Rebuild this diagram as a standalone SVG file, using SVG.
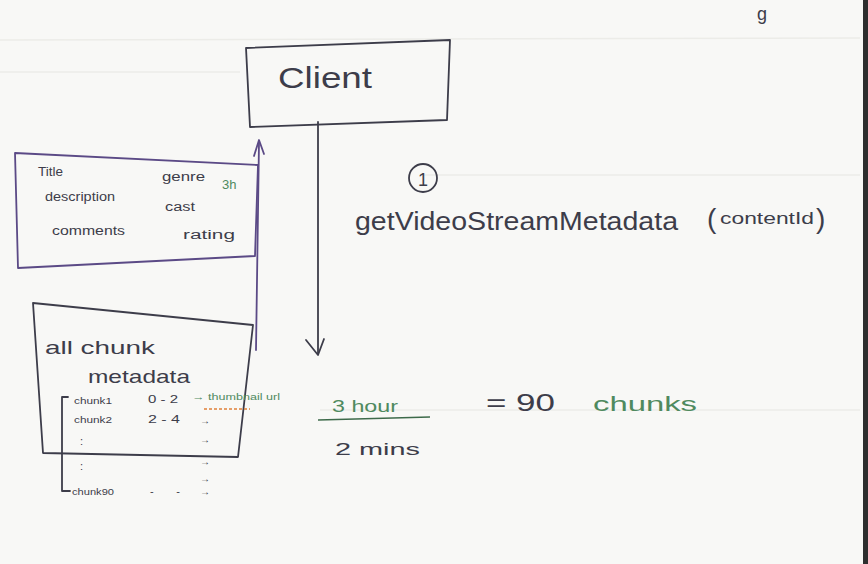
<svg xmlns="http://www.w3.org/2000/svg" width="868" height="564" viewBox="0 0 868 564">
<defs>
<style>
.ink{fill:none;stroke:#3d3d4a;stroke-width:1.8;stroke-linecap:round;stroke-linejoin:round}
.pur{fill:none;stroke:#5b4a86;stroke-width:1.8;stroke-linecap:round;stroke-linejoin:round}
.rule{stroke:#ecece8;stroke-width:1.5}
.t{font-family:"Liberation Sans",Arial,sans-serif;fill:#3d3d4a}
.g{fill:#4f8a5f}
.s{font-size:12px}
</style>
</defs>
<rect width="868" height="564" fill="#f8f8f6"/>
<g id="background-rules">
<line class="rule" x1="0" y1="40" x2="860" y2="38"/>
<line class="rule" x1="0" y1="72" x2="240" y2="72"/>
<line class="rule" x1="420" y1="175" x2="860" y2="175"/>
<line class="rule" x1="320" y1="410" x2="860" y2="410"/>
<rect x="863" y="0" width="5" height="564" fill="#2e2e2e"/>
</g>
<g id="connectors">
<path class="ink" d="M318 122 L318 354"/>
<path class="ink" d="M306 340 L318 355 L324 339"/>
<path class="pur" d="M256 350 L259 142"/>
<path class="pur" d="M254 156 L259 140 L264 154"/>
</g>
<g id="client">
<path class="ink" d="M246 48 L450 40 L447 120 L250 127 Z"/>
<text class="t" x="278" y="88" font-size="30" textLength="94" lengthAdjust="spacingAndGlyphs">Client</text>
</g>
<g id="video-metadata">
<path class="pur" d="M15 153 L258 165 L255 256 L18 268 Z"/>
<text class="t s" x="38" y="176" textLength="25" lengthAdjust="spacingAndGlyphs">Title</text>
<text class="t s" x="45" y="201" textLength="70" lengthAdjust="spacingAndGlyphs">description</text>
<text class="t s" x="52" y="235" textLength="73" lengthAdjust="spacingAndGlyphs">comments</text>
<text class="t s" x="162" y="181" textLength="43" lengthAdjust="spacingAndGlyphs">genre</text>
<text class="t g" x="222" y="189" font-size="13">3h</text>
<text class="t s" x="165" y="211" textLength="30" lengthAdjust="spacingAndGlyphs">cast</text>
<text class="t s" x="183" y="239" textLength="52" lengthAdjust="spacingAndGlyphs">rating</text>
</g>
<g id="chunk-metadata">
<path class="ink" d="M33 303 L253 325 L238 457 L43 453 Z"/>
<text class="t" x="45" y="354" font-size="19" textLength="110" lengthAdjust="spacingAndGlyphs">all chunk</text>
<text class="t" x="88" y="383" font-size="19" textLength="102" lengthAdjust="spacingAndGlyphs">metadata</text>
<path class="ink" d="M68 397 L62 397 L62 491 L70 491" stroke-width="1.4"/>
<text class="t" x="74" y="404" font-size="9" textLength="38" lengthAdjust="spacingAndGlyphs">chunk1</text>
<text class="t" x="74" y="423" font-size="9" textLength="38" lengthAdjust="spacingAndGlyphs">chunk2</text>
<text class="t" x="72" y="495" font-size="9" textLength="42" lengthAdjust="spacingAndGlyphs">chunk90</text>
<text class="t" x="148" y="403" font-size="10" textLength="30" lengthAdjust="spacingAndGlyphs">0 - 2</text>
<text class="t" x="148" y="423" font-size="10" textLength="32" lengthAdjust="spacingAndGlyphs">2 - 4</text>
<text class="t" x="80" y="445" font-size="11">:</text>
<text class="t" x="80" y="470" font-size="11">:</text>
<text class="t" x="150" y="495" font-size="11" textLength="30" lengthAdjust="spacing">-  -</text>
<text class="t g" x="192" y="400" font-size="9" textLength="88" lengthAdjust="spacingAndGlyphs">→ thumbnail url</text>
<line x1="204" y1="409" x2="250" y2="409" stroke="#e0803a" stroke-width="1.5" stroke-dasharray="3 2"/>
<text class="t" x="200" y="424" font-size="10">→</text>
<text class="t" x="200" y="443" font-size="10">→</text>
<text class="t" x="200" y="465" font-size="10">→</text>
<text class="t" x="200" y="482" font-size="10">→</text>
<text class="t" x="200" y="495" font-size="10">→</text>
</g>
<g id="api-call">
<circle cx="423" cy="178" r="14" class="ink"/>
<text class="t" x="418" y="186" font-size="18">1</text>
<text class="t" x="355" y="230" font-size="25" textLength="323" lengthAdjust="spacingAndGlyphs">getVideoStreamMetadata</text>
<text class="t" x="707" y="228" font-size="28">(</text>
<text class="t" x="720" y="224" font-size="17" textLength="94" lengthAdjust="spacingAndGlyphs">contentId</text>
<text class="t" x="816" y="228" font-size="28">)</text>
</g>
<g id="chunk-calc">
<text class="t g" x="332" y="412" font-size="17" textLength="66" lengthAdjust="spacingAndGlyphs">3 hour</text>
<line x1="318" y1="420" x2="430" y2="417" stroke="#3d6a4a" stroke-width="1.6"/>
<text class="t" x="335" y="455" font-size="17" textLength="85" lengthAdjust="spacingAndGlyphs">2 mins</text>
<text class="t" x="486" y="411" font-size="24" textLength="69" lengthAdjust="spacingAndGlyphs">= 90</text>
<text class="t g" x="593" y="411" font-size="20" textLength="104" lengthAdjust="spacingAndGlyphs">chunks</text>
</g>
<g id="top-fragment">
<text class="t" x="757" y="20" font-size="18">g</text>
</g>
</svg>
